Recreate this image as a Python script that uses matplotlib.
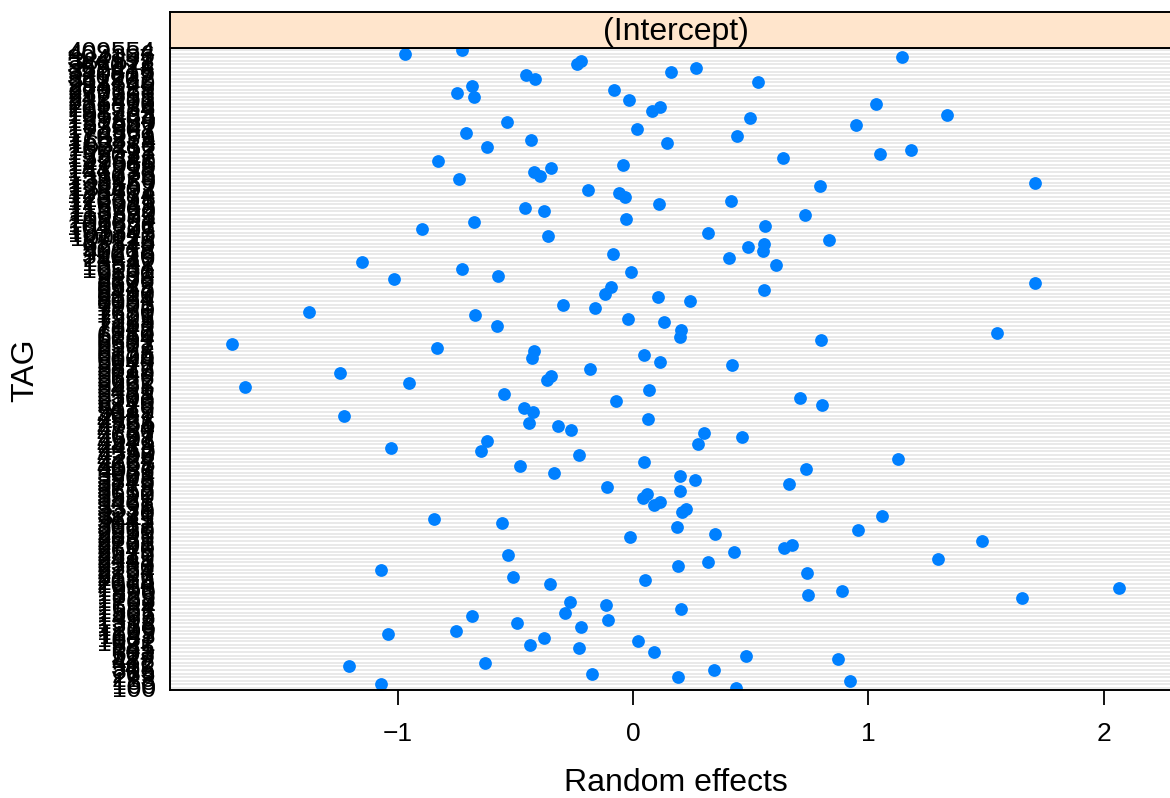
import numpy as np
import matplotlib.pyplot as plt

# TAG levels, listed top of the panel to bottom
tag_ids = [
    "409554", "402886", "394157", "382611", "369023", "355478", "340815", "326207",
    "311962", "297540", "284125", "270688", "257313", "242951", "228406", "215870",
    "201334",
    "198765", "195438", "191204", "187650", "183347", "178902", "174561", "170239",
    "166874", "163118", "160452", "157793", "155027", "152341", "149680", "147016",
    "144298", "141733", "139075", "136420", "133869", "131152", "128407", "125974",
    "123318", "120691", "118045", "115762", "113390", "110873", "108204", "106551",
    "104926", "103307", "101845", "100112",
    "87125", "68840", "52213", "40278", "31096", "24410", "18842", "13587", "10231",
    "9560", "9133", "8806", "8672", "8545", "8417", "8290", "8164", "8031", "7903",
    "7779", "7650", "7521", "7395", "7268", "7142", "7013", "6880", "6754", "6631",
    "6502", "6377", "6258", "6125", "6004", "5940", "5877", "5813", "5749", "5686",
    "5622", "5557", "5495", "5431", "5368", "5303", "5240", "5176", "5112", "5049",
    "4987", "4921", "4856", "4794", "4730", "4667", "4601", "4542", "4479", "4413",
    "4350", "4286", "4224", "4158", "4097", "4031", "3969", "3903", "3845", "3779",
    "3718", "3652", "3590", "3527", "3461", "3396", "3338", "3270", "3211", "3145",
    "3082", "3017", "2950", "2898", "2833", "2761", "2706", "2640", "2575", "2512",
    "2449", "2381", "2330", "2264", "2197", "2136", "2088", "2014", "1953", "1890",
    "1825", "1768", "1702", "1634", "1581", "1507", "1455", "1392", "1318", "1266",
    "1209", "1143", "1087", "1022",
    "881", "745", "603", "527", "488", "412", "347", "305", "269", "213", "188",
    "166", "100",
]

# random effect (Intercept) per TAG, same order as tag_ids
effects = [
    -0.727, -0.968, 1.143, -0.221, -0.238, 0.266, 0.161, -0.453, -0.415, 0.531,
    -0.686, -0.079, -0.748, -0.675, -0.017, 1.033, 0.115, 0.079, 1.334, 0.496,
    -0.537, 0.949, 0.016, -0.710, 0.442, -0.433, 0.146, -0.620, 1.181, 1.050,
    0.637, -0.829, -0.043, -0.347, -0.421, -0.395, -0.739, 1.708, 0.795, -0.193,
    -0.059, -0.035, 0.415, 0.110, -0.461, -0.377, 0.732, -0.030, -0.677, 0.561,
    -0.897, 0.319, -0.361, 0.833, 0.555, 0.488, 0.552, -0.087, 0.408, -1.152,
    0.608, -0.727, -0.008, -0.572, -1.016, 1.708, -0.092, 0.555, -0.119, 0.108,
    0.241, -0.297, -0.160, -1.377, -0.672, -0.021, 0.130, -0.578, 0.203, 1.547,
    0.200, 0.797, -1.704, -0.835, -0.423, 0.047, -0.429, 0.116, 0.421, -0.184,
    -1.247, -0.347, -0.365, -0.952, -1.651, 0.068, -0.550, 0.708, -0.073, 0.802,
    -0.463, -0.425, -1.230, 0.062, -0.442, -0.320, -0.263, 0.301, 0.461, -0.620,
    0.276, -1.027, -0.645, -0.228, 1.125, 0.047, -0.480, 0.737, -0.336, 0.198,
    0.263, 0.661, -0.111, 0.198, 0.059, 0.042, 0.114, 0.087, 0.225, 0.208,
    1.057, -0.846, -0.555, 0.187, 0.954, 0.347, -0.014, 1.483, 0.675, 0.642,
    0.431, -0.531, 1.296, 0.317, 0.193, -1.071, 0.739, -0.512, 0.049, -0.355,
    2.065, 0.888, 0.743, 1.653, -0.266, -0.114, 0.204, -0.290, -0.686, -0.106,
    -0.493, -0.220, -0.751, -1.041, -0.377, 0.019, -0.439, -0.230, 0.089, 0.480,
    0.870, -0.629, -1.207, 0.342, -0.176, 0.190, 0.924, -1.071, 0.436,
]

x_ticks = [-1, 0, 1, 2]
x_tick_labels = ["\u22121", "0", "1", "2"]

plt.rcParams['font.family'] = ['Liberation Sans', 'DejaVu Sans']

W, H = 1170, 798
fig = plt.figure(figsize=(W / 100, H / 100), dpi=100)

# main panel
ax = fig.add_axes([170 / W, 1 - 690 / H, (1182 - 170) / W, (690 - 48) / H])
n = len(tag_ids)
ypos = np.arange(n, 0, -1)
for y in ypos:
    ax.axhline(y, color='#e3e3e3', lw=1.1, zorder=0)
ax.plot(effects, ypos, 'o', color='#0080ff', ms=9.2, mec='none', zorder=2)

ax.set_xlim(-1.968, 2.333)
ax.set_ylim(0.4, n + 0.6)
ax.set_yticks(ypos)
ax.set_yticklabels(tag_ids, fontsize=19)
ax.set_xticks(x_ticks)
ax.set_xticklabels(x_tick_labels, fontsize=19)
ax.tick_params(axis='y', length=0, pad=10.5)
ax.tick_params(axis='x', length=10.8, width=1.3, pad=12)
for sp in ax.spines.values():
    sp.set_linewidth(1.4)

# strip on top
strip = fig.add_axes([170 / W, 1 - 48 / H, (1182 - 170) / W, 36 / H])
strip.set_facecolor('#ffe5cc')
strip.set_xticks([])
strip.set_yticks([])
for sp in strip.spines.values():
    sp.set_linewidth(1.4)
strip.text(0.5, 0.44, '(Intercept)', ha='center', va='center', fontsize=23,
           transform=strip.transAxes)

fig.text(25 / W, 1 - 370 / H, 'TAG', rotation=90, ha='center', va='center', fontsize=23)
fig.text(676 / W, 1 - 783 / H, 'Random effects', ha='center', va='center', fontsize=23)

fig.savefig('out.png', dpi=100)
